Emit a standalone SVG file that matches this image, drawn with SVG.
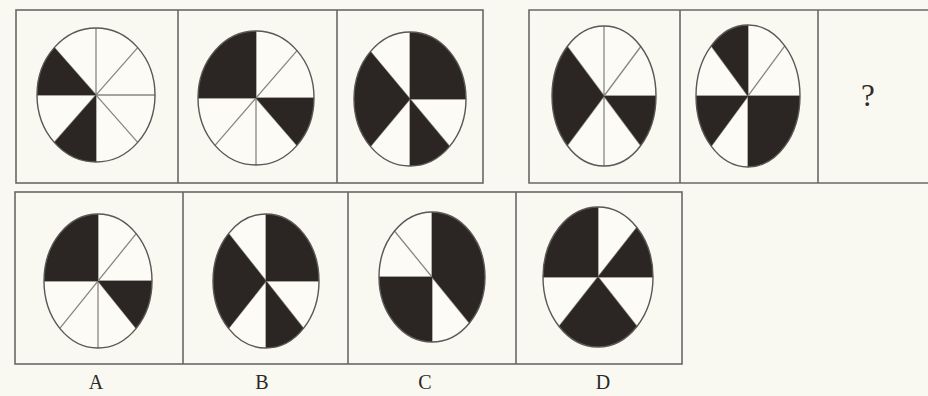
<svg xmlns="http://www.w3.org/2000/svg" width="928" height="396" viewBox="0 0 928 396">
<style>
.bg{fill:#f9f8f1}
.box{fill:none;stroke:#6a6864;stroke-width:1.6}
.face{fill:#fcfbf6}
.rad{fill:none;stroke:#8a8783;stroke-width:1.3}
.blk{fill:#2b2624}
.rim{fill:none;stroke:#5a5754;stroke-width:1.4}
.lbl{font-family:"Liberation Serif",serif;font-size:20px;fill:#2b2826;text-anchor:middle}
.q{font-family:"Liberation Serif",serif;font-size:31px;fill:#2f2b29;text-anchor:middle}
</style>
<rect class="bg" x="0" y="0" width="928" height="396"/>
<g id="frames">
<rect class="box" x="16" y="10" width="467" height="173"/>
<line class="box" x1="178" y1="10" x2="178" y2="183"/>
<line class="box" x1="337" y1="10" x2="337" y2="183"/>
<path class="box" d="M929 10 H529 V183 H929"/>
<line class="box" x1="680" y1="10" x2="680" y2="183"/>
<line class="box" x1="818" y1="10" x2="818" y2="183"/>
<rect class="box" x="15" y="192" width="667" height="172"/>
<line class="box" x1="183" y1="192" x2="183" y2="364"/>
<line class="box" x1="348" y1="192" x2="348" y2="364"/>
<line class="box" x1="516" y1="192" x2="516" y2="364"/>
</g>
<g id="fig1" transform="translate(96 95)">
<ellipse class="face" rx="59" ry="67"/>
<path class="rad" d="M-59 0H59M0 -67V67M-41.7 -47.4L41.7 47.4M-41.7 47.4L41.7 -47.4"/>
<path class="blk" d="M0 0L-41.7 -47.4A59 67 0 0 0 -59 0Z"/>
<path class="blk" d="M0 0L-41.7 47.4A59 67 0 0 0 0 67Z"/>
<ellipse class="rim" rx="59" ry="67"/>
</g>
<g id="fig2" transform="translate(256 98)">
<ellipse class="face" rx="58" ry="67"/>
<path class="rad" d="M-58 0H58M0 -67V67M-41 -47.4L41 47.4M-41 47.4L41 -47.4"/>
<path class="blk" d="M0 0L0 -67A58 67 0 0 0 -58 0Z"/>
<path class="blk" d="M0 0L41 47.4A58 67 0 0 0 58 0Z"/>
<ellipse class="rim" rx="58" ry="67"/>
</g>
<g id="fig3" transform="translate(410 99)">
<ellipse class="face" rx="56" ry="67"/>
<path class="rad" d="M-56 0H56M0 -67V67M-39.6 -47.4L39.6 47.4M-39.6 47.4L39.6 -47.4"/>
<path class="blk" d="M0 0L56 0A56 67 0 0 0 0 -67Z"/>
<path class="blk" d="M0 0L-39.6 -47.4A56 67 0 0 0 -39.6 47.4Z"/>
<path class="blk" d="M0 0L0 67A56 67 0 0 0 39.6 47.4Z"/>
<ellipse class="rim" rx="56" ry="67"/>
</g>
<g id="fig4" transform="translate(604 96)">
<ellipse class="face" rx="52" ry="70"/>
<path class="rad" d="M-52 0H52M0 -70V70M-36.8 -49.5L36.8 49.5M-36.8 49.5L36.8 -49.5"/>
<path class="blk" d="M0 0L-36.8 -49.5A52 70 0 0 0 -36.8 49.5Z"/>
<path class="blk" d="M0 0L36.8 49.5A52 70 0 0 0 52 0Z"/>
<ellipse class="rim" rx="52" ry="70"/>
</g>
<g id="fig5" transform="translate(748 96)">
<ellipse class="face" rx="52" ry="71"/>
<path class="rad" d="M-52 0H52M0 -71V71M-36.8 -50.2L36.8 50.2M-36.8 50.2L36.8 -50.2"/>
<path class="blk" d="M0 0L0 -71A52 71 0 0 0 -36.8 -50.2Z"/>
<path class="blk" d="M0 0L-52 0A52 71 0 0 0 -36.8 50.2Z"/>
<path class="blk" d="M0 0L0 71A52 71 0 0 0 52 0Z"/>
<ellipse class="rim" rx="52" ry="71"/>
</g>
<g id="question">
<text class="q" x="868" y="106">?</text>
</g>
<g id="optA" transform="translate(98 281)">
<ellipse class="face" rx="54" ry="67"/>
<path class="rad" d="M-54 0H54M0 -67V67M-38.2 -47.4L38.2 47.4M-38.2 47.4L38.2 -47.4"/>
<path class="blk" d="M0 0L0 -67A54 67 0 0 0 -54 0Z"/>
<path class="blk" d="M0 0L38.2 47.4A54 67 0 0 0 54 0Z"/>
<ellipse class="rim" rx="54" ry="67"/>
</g>
<g id="optB" transform="translate(266 281)">
<ellipse class="face" rx="53" ry="67"/>
<path class="rad" d="M-53 0H53M0 -67V67M-37.5 -47.4L37.5 47.4M-37.5 47.4L37.5 -47.4"/>
<path class="blk" d="M0 0L53 0A53 67 0 0 0 0 -67Z"/>
<path class="blk" d="M0 0L-37.5 -47.4A53 67 0 0 0 -37.5 47.4Z"/>
<path class="blk" d="M0 0L0 67A53 67 0 0 0 37.5 47.4Z"/>
<ellipse class="rim" rx="53" ry="67"/>
</g>
<g id="optC" transform="translate(432 277)">
<ellipse class="face" rx="53" ry="65"/>
<path class="rad" d="M-53 0H53M0 -65V65M-37.5 -46L37.5 46M-37.5 46L37.5 -46"/>
<path class="blk" d="M0 0L37.5 46A53 65 0 0 0 0 -65Z"/>
<path class="blk" d="M0 0L-53 0A53 65 0 0 0 0 65Z"/>
<ellipse class="rim" rx="53" ry="65"/>
</g>
<g id="optD" transform="translate(598 277)">
<ellipse class="face" rx="55" ry="70"/>
<path class="rad" d="M-55 0H55M0 -70V70M-38.9 -49.5L38.9 49.5M-38.9 49.5L38.9 -49.5"/>
<path class="blk" d="M0 0L55 0A55 70 0 0 0 38.9 -49.5Z"/>
<path class="blk" d="M0 0L0 -70A55 70 0 0 0 -55 0Z"/>
<path class="blk" d="M0 0L-38.9 49.5A55 70 0 0 0 38.9 49.5Z"/>
<ellipse class="rim" rx="55" ry="70"/>
</g>
<g id="labels">
<text class="lbl" x="96" y="389">A</text>
<text class="lbl" x="262" y="389">B</text>
<text class="lbl" x="425" y="389">C</text>
<text class="lbl" x="603" y="389">D</text>
</g>
</svg>
